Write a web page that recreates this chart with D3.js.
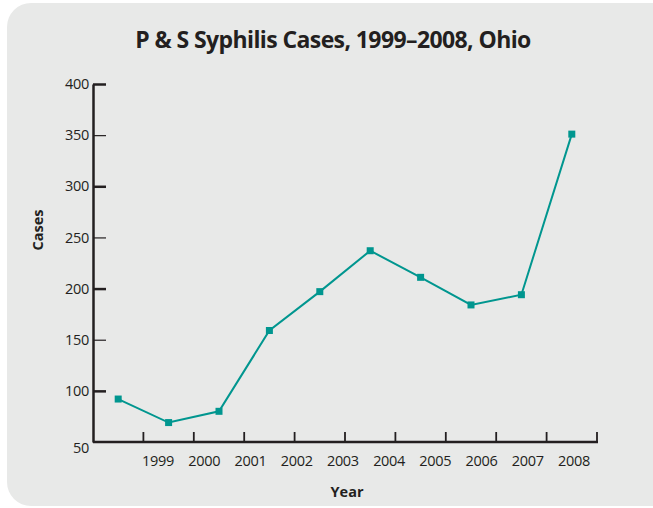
<!DOCTYPE html>
<html>
<head>
    <meta charset="utf-8">
    <title>P &amp; S Syphilis Cases, 1999–2008, Ohio</title>
    <script src="https://d3js.org/d3.v7.min.js"></script>
    <style>
        body { margin: 0; background: #fff; }
        text { font-family: "Open Sans", "Noto Sans", sans-serif; fill: #231f20; }
    </style>
</head>
<body>
<svg id="chart"></svg>
<script>
    var years = ["1999", "2000", "2001", "2002", "2003", "2004", "2005", "2006", "2007", "2008"];
    var cases = [92, 69, 80, 159, 197, 237, 211, 184, 194, 351];
    var yTicks = [50, 100, 150, 200, 250, 300, 350, 400];

    var width = 653, height = 508;
    var teal = "#00968f";

    var svg = d3.select("#chart")
        .attr("width", width)
        .attr("height", height);

    // grey panel
    svg.append("rect")
        .attr("x", 7).attr("y", 3)
        .attr("width", 670).attr("height", 503)
        .attr("rx", 24).attr("ry", 24)
        .attr("fill", "#e8e9e8");

    svg.append("text")
        .attr("x", 333).attr("y", 48)
        .attr("text-anchor", "middle")
        .attr("font-size", 23)
        .attr("font-weight", "bold")
        .attr("letter-spacing", -0.6)
        .text("P & S Syphilis Cases, 1999–2008, Ohio");

    var x = d3.scaleBand().domain(years).range([93, 597]);
    var xLabel = d3.scalePoint().domain(years).range([158, 574]);
    var y = d3.scaleLinear().domain([50, 400]).range([442, 84]);

    // y axis
    var yAxis = svg.append("g")
        .attr("transform", "translate(93,0)")
        .call(d3.axisLeft(y).tickValues(yTicks).tickSizeInner(-13).tickSizeOuter(0).tickPadding(4));
    yAxis.select(".domain").attr("stroke", "#231f20").attr("stroke-width", 2.5);
    yAxis.selectAll(".tick line")
        .attr("stroke", "#231f20")
        .attr("stroke-width", function(d) { return d % 100 == 0 ? 2.5 : 1.2; })
        .attr("opacity", function(d) { return d == 50 ? 0 : 1; });
    yAxis.selectAll(".tick text")
        .attr("font-size", 14.5)
        .attr("letter-spacing", -0.3)
        .attr("font-family", "Open Sans, sans-serif")
        .attr("fill", "#231f20")
        .attr("dy", function(d) { return d == 50 ? "0.75em" : "0.32em"; });

    // x axis: ticks on band edges
    var edges = years.slice(1).map(function(d) { return x(d); }).concat([x.range()[1]]);
    svg.append("line")
        .attr("x1", 93).attr("x2", x.range()[1] + 1)
        .attr("y1", y(50)).attr("y2", y(50))
        .attr("stroke", "#231f20").attr("stroke-width", 2.5);
    svg.selectAll(".xtick")
        .data(edges)
        .enter().append("line")
        .attr("class", "xtick")
        .attr("x1", function(d) { return d; }).attr("x2", function(d) { return d; })
        .attr("y1", y(50)).attr("y2", y(50) - 10)
        .attr("stroke", "#231f20").attr("stroke-width", 1.8);
    svg.selectAll(".xlab")
        .data(years)
        .enter().append("text")
        .attr("class", "xlab")
        .attr("x", function(d) { return xLabel(d); })
        .attr("y", 466)
        .attr("text-anchor", "middle")
        .attr("font-size", 14.5)
        .attr("letter-spacing", -0.3)
        .text(function(d) { return d; });

    svg.append("text")
        .attr("x", 347).attr("y", 497)
        .attr("text-anchor", "middle")
        .attr("font-size", 14.5)
        .attr("font-weight", "bold")
        .text("Year");
    svg.append("text")
        .attr("transform", "translate(43,230) rotate(-90)")
        .attr("text-anchor", "middle")
        .attr("font-size", 14.5)
        .attr("font-weight", "bold")
        .text("Cases");

    // line and markers
    var px = function(d, i) { return x(years[i]) + x.bandwidth() / 2; };
    var line = d3.line().x(px).y(function(d) { return y(d); });
    svg.append("path")
        .datum(cases)
        .attr("d", line)
        .attr("fill", "none")
        .attr("stroke", teal)
        .attr("stroke-width", 2);
    svg.selectAll(".pt")
        .data(cases)
        .enter().append("rect")
        .attr("class", "pt")
        .attr("x", function(d, i) { return px(d, i) - 3.5; })
        .attr("y", function(d) { return y(d) - 3.5; })
        .attr("width", 7).attr("height", 7)
        .attr("fill", teal);
</script>
</body>
</html>
